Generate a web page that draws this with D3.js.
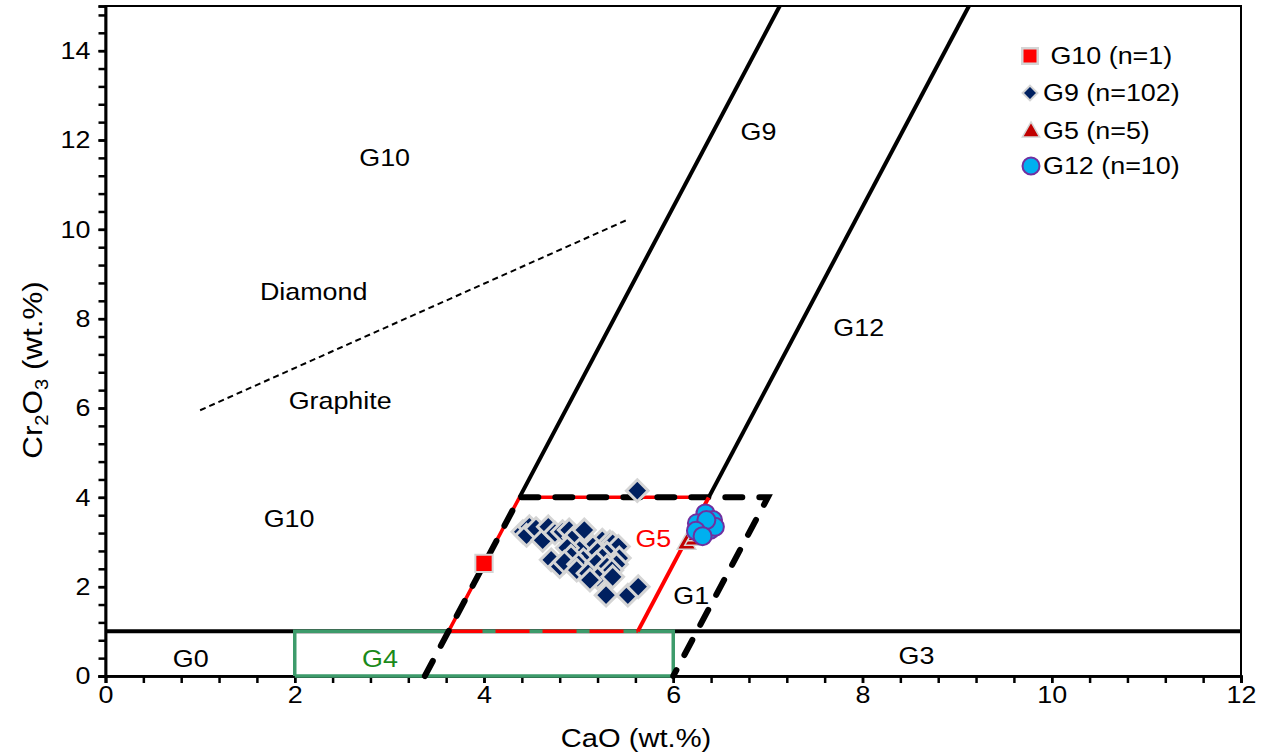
<!DOCTYPE html>
<html><head><meta charset="utf-8">
<script src="https://cdn.jsdelivr.net/npm/d3@7"></script>
<style>body{margin:0;background:#fff}text{font-family:"Liberation Sans",Arial,sans-serif}</style>
</head><body><svg id="c" width="1269" height="755"></svg>
<script>
// ---------- data ----------
const xTicks = [0, 2, 4, 6, 8, 10, 12];
const yTicks = [0, 2, 4, 6, 8, 10, 12, 14];
const g10Pts = [[4.0, 2.52]];
const g9Pts = [
  [5.62,4.15],[4.41,3.23],[4.48,3.34],[4.45,3.15],[4.55,3.30],[4.62,3.04],[4.68,3.34],[4.75,3.20],
  [4.83,3.23],[4.90,3.27],[4.95,3.10],[5.06,3.27],[5.25,3.04],[5.33,3.00],[5.36,2.97],[5.42,2.90],
  [5.15,2.90],[5.01,2.82],[4.88,2.87],[5.20,2.78],[5.30,2.75],[5.43,2.64],[5.25,2.65],[5.05,2.60],
  [4.92,2.68],[4.71,2.60],[4.80,2.45],[4.85,2.55],[5.00,2.50],[5.19,2.53],[5.40,2.50],[5.30,2.45],
  [4.98,2.37],[5.10,2.30],[5.35,2.37],[5.20,2.20],[5.36,2.22],[5.12,2.15],[5.29,1.81],[5.52,1.81],
  [5.63,2.00]
];
const g5Pts = [[6.14,2.96],[6.22,3.05],[6.25,3.15],[6.28,3.25],[6.32,3.35]];
const g12Pts = [[6.34,3.64],[6.42,3.49],[6.32,3.38],[6.25,3.42],[6.28,3.19],[6.39,3.27],[6.44,3.34],[6.35,3.49],[6.24,3.25],[6.31,3.13]];
const g9Line = [[4.375,4],[7.125,15]];
const g12Line = [[6.375,4],[9.125,15]];
const cr1Line = [[0,1],[12,1]];
const dashedBox = [[3.375,0],[4.375,4],[7,4],[6,0]];
const g5LeftTop = [[3.625,1],[4.375,4],[6.375,4]];
const g5Right = [[5.625,1],[6.375,4]];
const g5Bottom = [[3.625,1],[5.625,1]];
const g4Box = [[2,0],[2,1],[6,1],[6,0],[2,0]];
const diaGraLine = [[1.0,5.95],[5.5,10.2]];
const fieldLabels = [
  {t:"G10", x:2.95, y:11.6, c:"#000"},
  {t:"Diamond", x:2.2, y:8.6, c:"#000"},
  {t:"Graphite", x:2.48, y:6.17, c:"#000"},
  {t:"G10", x:1.94, y:3.53, c:"#000"},
  {t:"G9", x:6.9, y:12.2, c:"#000"},
  {t:"G12", x:7.96, y:7.8, c:"#000"},
  {t:"G5", x:5.79, y:3.08, c:"#ff0000"},
  {t:"G1", x:6.19, y:1.8, c:"#000"},
  {t:"G0", x:0.9, y:0.4, c:"#000"},
  {t:"G4", x:2.9, y:0.4, c:"#1a8a1a"},
  {t:"G3", x:8.57, y:0.45, c:"#000"}
];
const legendItems = [" G10 (n=1)", "G9 (n=102)", "G5 (n=5)", "G12 (n=10)"];

const SX = 1.12; // horizontal glyph stretch seen in the reference

// ---------- scales ----------
const svg = d3.select("#c");
const x = d3.scaleLinear().domain([0,12]).range([105.5,1241]);
const y = d3.scaleLinear().domain([0,15]).range([676,6]);
const line = d3.line().x(d=>x(d[0])).y(d=>y(d[1]));

// frame
svg.append("rect").attr("x",x(0)).attr("y",y(15)).attr("width",x(12)-x(0)).attr("height",y(0)-y(15))
  .attr("fill","none").attr("stroke","#000").attr("stroke-width",2);

// axes
const minorX = d3.range(0,12.001,0.4);
const minorY = d3.range(0,15.001,0.4);
const xAx = svg.append("g").attr("transform",`translate(0,${y(0)})`)
  .call(d3.axisBottom(x).tickValues(minorX).tickSize(7).tickFormat(""));
const xAxL = svg.append("g").attr("transform",`translate(0,${y(0)})`)
  .call(d3.axisBottom(x).tickValues(xTicks).tickSize(7).tickPadding(3).tickFormat(d3.format("d")));
const yAx = svg.append("g").attr("transform",`translate(${x(0)},0)`)
  .call(d3.axisLeft(y).tickValues(minorY).tickSize(7).tickFormat(""));
const yAxL = svg.append("g").attr("transform",`translate(${x(0)},0)`)
  .call(d3.axisLeft(y).tickValues(yTicks).tickSize(7).tickPadding(7).tickFormat(d3.format("d")));
[xAx,xAxL,yAx,yAxL].forEach(g=>{
  g.select(".domain").attr("stroke-width",2.5);
  g.selectAll(".tick line").attr("stroke-width",2.5);
  g.selectAll("text").attr("font-size",24).attr("fill","#000").attr("font-family","Liberation Sans, Arial")
    .attr("transform",`scale(${SX},1)`);
});
yAxL.selectAll(".tick text").attr("x",-15/SX);

// horizontal Cr=1 line
svg.append("path").attr("d",line(cr1Line)).attr("stroke","#000").attr("stroke-width",4).attr("fill","none");
// G4 box
svg.append("path").attr("d",line(g4Box)).attr("stroke","#3d9b6b").attr("stroke-width",3.5).attr("fill","none");
// G5 red bottom dashed
svg.append("path").attr("d",line(g5Bottom)).attr("stroke","#ff0000").attr("stroke-width",3.5)
  .attr("stroke-dasharray","34,13").attr("fill","none");
// G5 red under black dashes
svg.append("path").attr("d",line(g5LeftTop)).attr("stroke","#ff0000").attr("stroke-width",3.5).attr("fill","none");
// black dashed box
svg.append("path").attr("d",line(dashedBox)).attr("stroke","#000").attr("stroke-width",6)
  .attr("stroke-dasharray","17,17").attr("stroke-linecap","round").attr("fill","none");
// G5 right red solid
svg.append("path").attr("d",line(g5Right)).attr("stroke","#ff0000").attr("stroke-width",4).attr("fill","none");
// G9, G12 boundary lines
[g9Line,g12Line].forEach(l=>svg.append("path").attr("d",line(l)).attr("stroke","#000").attr("stroke-width",4).attr("fill","none"));
// diamond-graphite
svg.append("path").attr("d",line(diaGraLine)).attr("stroke","#000").attr("stroke-width",2)
  .attr("stroke-dasharray","6,4").attr("fill","none");

// field labels
svg.append("g").selectAll("text").data(fieldLabels).join("text")
  .attr("transform",d=>`translate(${x(d.x)},${y(d.y)}) scale(${SX},1)`)
  .attr("text-anchor","middle").attr("dominant-baseline","central")
  .attr("font-size",24).attr("fill",d=>d.c).text(d=>d.t);

// markers
const sym = (type,size)=>d3.symbol().type(type).size(size)();
svg.append("g").selectAll("path").data(g9Pts).join("path")
  .attr("d",sym(d3.symbolDiamond2,300)).attr("transform",d=>`translate(${x(d[0])},${y(d[1])})`)
  .attr("fill","#002060").attr("stroke","#d5d5d5").attr("stroke-width",3);
svg.append("g").selectAll("path").data(g10Pts).join("path")
  .attr("d",sym(d3.symbolSquare,300)).attr("transform",d=>`translate(${x(d[0])},${y(d[1])})`)
  .attr("fill","#ff0000").attr("stroke","#d5d5d5").attr("stroke-width",2);
svg.append("g").selectAll("path").data(g5Pts).join("path")
  .attr("d",sym(d3.symbolTriangle,150)).attr("transform",d=>`translate(${x(d[0])},${y(d[1])})`)
  .attr("fill","#c00000").attr("stroke","#d5d5d5").attr("stroke-width",1.5);
svg.append("g").selectAll("circle").data(g12Pts).join("circle")
  .attr("cx",d=>x(d[0])).attr("cy",d=>y(d[1])).attr("r",9)
  .attr("fill","#00b0f0").attr("stroke","#7030a0").attr("stroke-width",2);

// axis titles
svg.append("text").attr("transform",`translate(636,747) scale(${SX},1)`).attr("text-anchor","middle").attr("font-size",26).text("CaO (wt.%)");
const yt = svg.append("text").attr("transform",`translate(42,370) rotate(-90) scale(${SX},1)`).attr("text-anchor","middle").attr("font-size",28);
yt.append("tspan").text("Cr");
yt.append("tspan").attr("font-size",18).attr("dy",6).text("2");
yt.append("tspan").attr("dy",-6).text("O");
yt.append("tspan").attr("font-size",18).attr("dy",6).text("3");
yt.append("tspan").attr("dy",-6).text(" (wt.%)");

// legend
const lg = svg.append("g");
const ly = [56, 93, 131, 166];
lg.append("path").attr("d",sym(d3.symbolSquare,240)).attr("transform",`translate(1030,${ly[0]})`)
  .attr("fill","#ff0000").attr("stroke","#d5d5d5").attr("stroke-width",2.5);
lg.append("path").attr("d",sym(d3.symbolDiamond2,140)).attr("transform",`translate(1030,${ly[1]})`)
  .attr("fill","#002060").attr("stroke","#d5d5d5").attr("stroke-width",2);
lg.append("path").attr("d",sym(d3.symbolTriangle,130)).attr("transform",`translate(1031,${ly[2]+1})`)
  .attr("fill","#c00000").attr("stroke","#d5d5d5").attr("stroke-width",1.5);
lg.append("circle").attr("cx",1031).attr("cy",ly[3]).attr("r",8.5)
  .attr("fill","#00b0f0").attr("stroke","#7030a0").attr("stroke-width",2);
lg.selectAll("text.l").data(legendItems).join("text").attr("class","l")
  .attr("transform",(d,i)=>`translate(1043,${ly[i]}) scale(${SX},1)`)
  .attr("dominant-baseline","central").attr("xml:space","preserve")
  .style("white-space","pre")
  .attr("font-size",24).text(d=>d);
</script></body></html>
